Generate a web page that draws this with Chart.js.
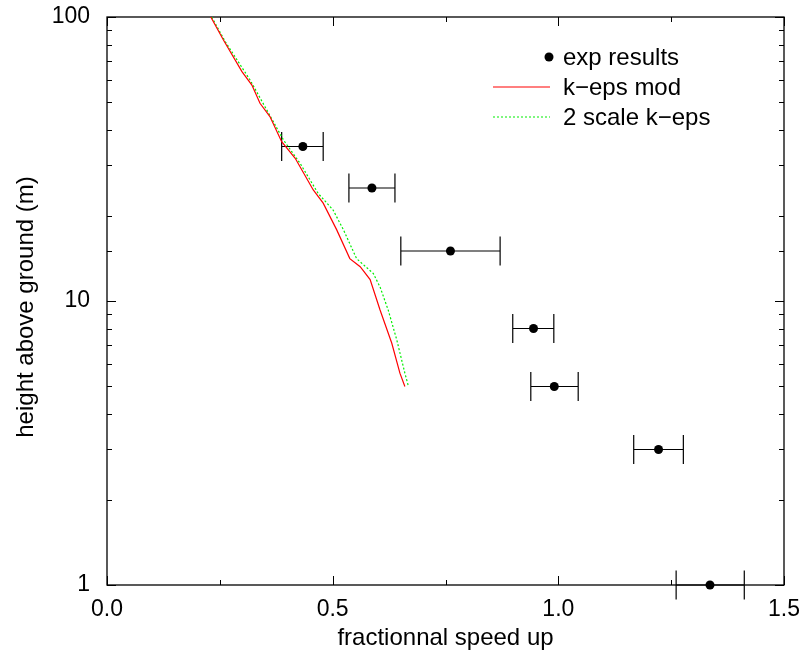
<!DOCTYPE html>
<html>
<head>
<meta charset="utf-8">
<script src="https://cdn.jsdelivr.net/npm/chart.js@4.4.1/dist/chart.umd.min.js"></script>
<style>
  body { margin: 0; background: #fff; }
  #wrap { width: 805px; height: 657px; }
</style>
</head>
<body>
<div id="wrap"><canvas id="chart" width="805" height="657"></canvas></div>
<script>
// experimental points (speed up vs height) with horizontal error bars
var expHeight = [35, 25, 15, 8, 5, 3, 1];
var expSpeed  = [0.434, 0.587, 0.761, 0.945, 0.991, 1.222, 1.336];
var expLow    = [0.387, 0.536, 0.651, 0.899, 0.939, 1.167, 1.261];
var expHigh   = [0.479, 0.638, 0.871, 0.990, 1.044, 1.277, 1.412];

// k-eps mod profile
var kepsHeight = [100, 83.0, 64.2, 57.6, 49.7, 44.6, 36.4, 31.8, 24.6, 22.1, 17.8, 14.1, 13.2, 11.9, 9.3, 7.1, 5.57, 5.0];
var kepsSpeed  = [0.230, 0.258, 0.299, 0.321, 0.339, 0.361, 0.387, 0.417, 0.457, 0.479, 0.509, 0.538, 0.561, 0.583, 0.605, 0.631, 0.649, 0.660];

// 2 scale k-eps profile
var twoHeight = [100, 81.9, 60.0, 48.3, 36.9, 30.5, 23.9, 20.9, 17.8, 14.1, 12.5, 11.2, 9.3, 7.3, 5.57, 5.0];
var twoSpeed  = [0.232, 0.262, 0.317, 0.350, 0.391, 0.428, 0.468, 0.501, 0.524, 0.553, 0.590, 0.605, 0.623, 0.642, 0.660, 0.668];

var seriesLabels = ['exp results', 'k\u2212eps mod', '2 scale k\u2212eps'];
var seriesColors = ['#000000', '#ff0000', '#00ee00'];
var xTitle = 'fractionnal speed up';
var yTitle = 'height above ground (m)';

var FONT = '"Liberation Sans", Arial, sans-serif';

function toXY(xs, ys) {
    var out = [];
    for (var i = 0; i < xs.length; i++) out.push({x: xs[i], y: ys[i]});
    return out;
}

// frame, inward ticks, error bars, titles and legend
var decorPlugin = {
    id: 'decor',
    beforeDatasetsDraw: function(chart) {
        var ctx = chart.ctx, a = chart.chartArea;
        var xs = chart.scales.x, ys = chart.scales.y;
        ctx.save();
        ctx.strokeStyle = '#000';
        ctx.lineWidth = 1.3;
        ctx.strokeRect(a.left, a.top, a.right - a.left, a.bottom - a.top);

        ctx.lineWidth = 1;
        xs.ticks.forEach(function(t) {
            var px = Math.round(xs.getPixelForValue(t.value)) + 0.5;
            var len = (Math.abs(t.value * 2 - Math.round(t.value * 2)) < 1e-6) ? 9 : 5;
            ctx.beginPath();
            ctx.moveTo(px, a.bottom); ctx.lineTo(px, a.bottom - len);
            ctx.moveTo(px, a.top); ctx.lineTo(px, a.top + len);
            ctx.stroke();
        });
        ys.ticks.forEach(function(t) {
            var py = Math.round(ys.getPixelForValue(t.value)) + 0.5;
            var lg = Math.log10(t.value);
            var len = (Math.abs(lg - Math.round(lg)) < 1e-6) ? 9 : 5;
            ctx.beginPath();
            ctx.moveTo(a.left, py); ctx.lineTo(a.left + len, py);
            ctx.moveTo(a.right, py); ctx.lineTo(a.right - len, py);
            ctx.stroke();
        });

        // error bars
        ctx.lineWidth = 1.2;
        for (var i = 0; i < expHeight.length; i++) {
            var py = ys.getPixelForValue(expHeight[i]);
            var x0 = xs.getPixelForValue(expLow[i]);
            var x1 = xs.getPixelForValue(expHigh[i]);
            ctx.beginPath();
            ctx.moveTo(x0, py); ctx.lineTo(x1, py);
            ctx.moveTo(x0, py - 14.5); ctx.lineTo(x0, py + 14.5);
            ctx.moveTo(x1, py - 14.5); ctx.lineTo(x1, py + 14.5);
            ctx.stroke();
        }
        ctx.restore();
    },
    afterDraw: function(chart) {
        var ctx = chart.ctx, a = chart.chartArea;
        ctx.save();
        ctx.fillStyle = '#000';
        ctx.font = '24px ' + FONT;
        ctx.textAlign = 'center';
        ctx.textBaseline = 'middle';
        ctx.fillText(xTitle, (a.left + a.right) / 2, 638);
        ctx.translate(26, 307);
        ctx.rotate(-Math.PI / 2);
        ctx.fillText(yTitle, 0, 0);
        ctx.restore();

        // legend
        ctx.save();
        ctx.font = '24px ' + FONT;
        ctx.textAlign = 'left';
        ctx.textBaseline = 'middle';
        var rows = [57, 87, 117];
        chart.data.datasets.forEach(function(ds, i) {
            var y = rows[i];
            if (i === 0) {
                ctx.fillStyle = seriesColors[0];
                ctx.beginPath();
                ctx.arc(549, y, 4.5, 0, Math.PI * 2);
                ctx.fill();
            } else {
                ctx.strokeStyle = seriesColors[i];
                ctx.lineWidth = 1.2;
                ctx.setLineDash(ds.borderDash || []);
                ctx.beginPath();
                ctx.moveTo(493, y); ctx.lineTo(550, y);
                ctx.stroke();
                ctx.setLineDash([]);
            }
            ctx.fillStyle = '#000';
            ctx.fillText(ds.label, 563, y + 1);
        });
        ctx.restore();
    }
};

new Chart(document.getElementById('chart'), {
    type: 'scatter',
    data: {
        datasets: [{
            label: seriesLabels[0],
            data: toXY(expSpeed, expHeight),
            showLine: false,
            pointRadius: 4.5,
            pointBackgroundColor: seriesColors[0],
            pointBorderWidth: 0,
            borderColor: seriesColors[0],
            clip: false,
            order: 0
        }, {
            label: seriesLabels[1],
            data: toXY(kepsSpeed, kepsHeight),
            showLine: true,
            borderColor: seriesColors[1],
            borderWidth: 1.2,
            pointRadius: 0,
            tension: 0,
            order: 1
        }, {
            label: seriesLabels[2],
            data: toXY(twoSpeed, twoHeight),
            showLine: true,
            borderColor: seriesColors[2],
            borderWidth: 1.2,
            borderDash: [2, 2],
            pointRadius: 0,
            tension: 0,
            order: 2
        }]
    },
    options: {
        responsive: false,
        animation: false,
        devicePixelRatio: 1,
        layout: { padding: { top: 17, right: 21, left: 0, bottom: 0 } },
        plugins: { legend: { display: false }, tooltip: { enabled: false } },
        scales: {
            x: {
                type: 'linear',
                min: 0, max: 1.5,
                grid: { display: false, drawTicks: false },
                border: { display: false },
                ticks: {
                    stepSize: 0.25,
                    autoSkip: false,
                    maxRotation: 0,
                    padding: 11,
                    color: '#000',
                    font: { family: FONT, size: 23 },
                    callback: function(v) {
                        return Math.abs(v * 2 - Math.round(v * 2)) < 1e-6 ? v.toFixed(1) : '';
                    }
                },
                afterFit: function(s) {
                    s.height = 72;
                    s.paddingLeft = 0; s.paddingRight = 0;
                }
            },
            y: {
                type: 'logarithmic',
                min: 1, max: 100,
                grid: { display: false, drawTicks: false },
                border: { display: false },
                ticks: {
                    autoSkip: false,
                    padding: 17,
                    color: '#000',
                    font: { family: FONT, size: 23 },
                    callback: function(v) {
                        var lg = Math.log10(v);
                        return Math.abs(lg - Math.round(lg)) < 1e-6 ? String(v) : '';
                    }
                },
                afterFit: function(s) {
                    s.width = 107;
                    s.paddingTop = 0; s.paddingBottom = 0;
                }
            }
        }
    },
    plugins: [decorPlugin]
});
</script>
</body>
</html>
